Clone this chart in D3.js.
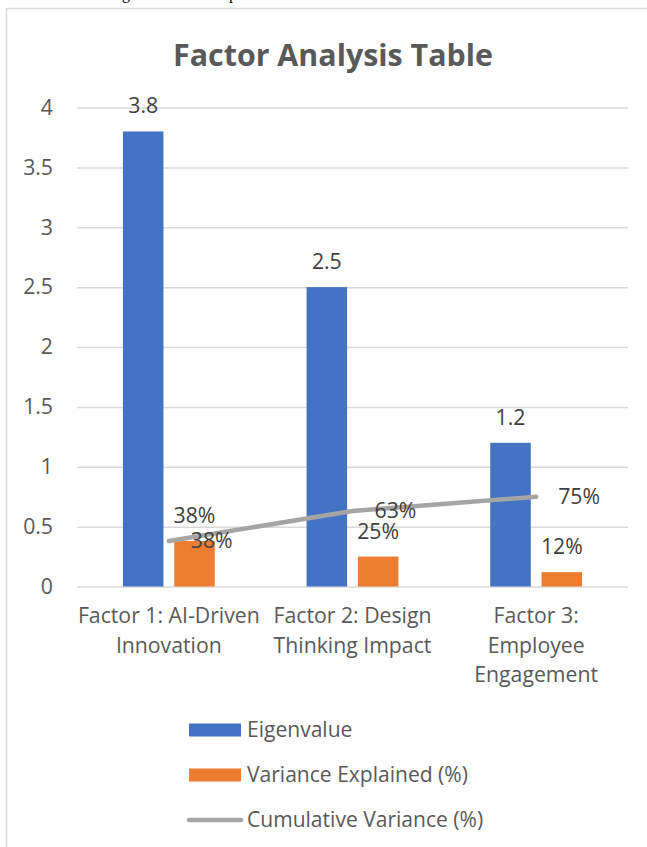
<!DOCTYPE html>
<html>
<head>
<meta charset="UTF-8">
<title>Factor Analysis Table</title>
<style>
  body { margin: 0; background: #fff; }
  svg { display: block; }
  text { font-family: "Open Sans", Lato, sans-serif; }
</style>
</head>
<body>
<svg id="chart" width="647" height="847"></svg>

<script src="https://d3js.org/d3.v7.min.js"></script>
<script>
// chart data
const categories = ["Factor 1: AI-Driven Innovation", "Factor 2: Design Thinking Impact", "Factor 3: Employee Engagement"];
const categoryLines = [["Factor 1: AI-Driven", "Innovation"], ["Factor 2: Design", "Thinking Impact"], ["Factor 3:", "Employee", "Engagement"]];
const eigenvalues = [3.8, 2.5, 1.2];
const varianceExplained = [0.38, 0.25, 0.12];
const cumulativeVariance = [0.38, 0.63, 0.75];
const yTicks = [0, 0.5, 1, 1.5, 2, 2.5, 3, 3.5, 4];
const seriesNames = ["Eigenvalue", "Variance Explained (%)", "Cumulative Variance (%)"];

const blue = "#4472c4", orange = "#ed7d31", grey = "#a5a5a5";
const textCol = "#595959", labelCol = "#404040";

let svg = d3.select("#chart");

// pick a font size so that a string gets the width it has in the reference
function fitSize(str, weight, target) {
    let t = svg.append("text").style("font-size", "100px").style("font-weight", weight).text(str);
    let w = t.node().getComputedTextLength();
    t.remove();
    return 100 * target / w;
}
const titleSize = fitSize("Factor Analysis Table", "bold", 320);
const axisSize = fitSize("Factor 1: AI-Driven", "normal", 182);
const legendSize = fitSize("Variance Explained (%)", "normal", 221);

// text of the page above the chart, mostly cut off
svg.append("text")
    .attr("x", 122).attr("y", -1)
    .style("font-family", "'Liberation Serif', serif")
    .style("font-size", "16px")
    .attr("fill", "#000")
    .text("g the varimax exp");

// chart frame (runs off the right and bottom)
svg.append("rect")
    .attr("x", 6.5).attr("y", 8.5)
    .attr("width", 700).attr("height", 900)
    .attr("fill", "#fff")
    .attr("stroke", "#d9d9d9")
    .attr("stroke-width", 1.5);

// title
svg.append("text")
    .attr("x", 333).attr("y", 66)
    .attr("text-anchor", "middle")
    .attr("fill", textCol)
    .style("font-size", titleSize + "px")
    .style("font-weight", "bold")
    .text("Factor Analysis Table");

let x = d3.scaleBand().domain(categories).range([77, 628]);
let bw = x.bandwidth();
let xSub = d3.scaleBand().domain(["eig", "var"])
    .range([bw * 0.25, bw * 0.75])
    .paddingInner(0.21);
let y = d3.scaleLinear().domain([0, 4]).range([586.5, 107.5]);

// y axis with gridlines
let yAxis = svg.append("g")
    .attr("transform", "translate(77,0)")
    .call(d3.axisLeft(y).tickValues(yTicks).tickSize(-551).tickPadding(24).tickFormat(d3.format("")));
yAxis.select(".domain").remove();
yAxis.selectAll(".tick line").attr("stroke", "#d9d9d9").attr("stroke-width", 1.5);
yAxis.selectAll(".tick text")
    .attr("fill", textCol)
    .style("font-size", axisSize + "px")
    .style("font-family", "'Open Sans', sans-serif");

// bars
let groups = svg.append("g").selectAll("g")
    .data(categories)
    .join("g")
    .attr("transform", d => "translate(" + x(d) + ",0)");

groups.append("rect")
    .attr("x", xSub("eig"))
    .attr("width", xSub.bandwidth())
    .attr("y", (d, i) => y(eigenvalues[i]))
    .attr("height", (d, i) => y(0) - y(eigenvalues[i]))
    .attr("fill", blue);

groups.append("rect")
    .attr("x", xSub("var"))
    .attr("width", xSub.bandwidth())
    .attr("y", (d, i) => y(varianceExplained[i]))
    .attr("height", (d, i) => y(0) - y(varianceExplained[i]))
    .attr("fill", orange);

// bar labels
groups.append("text")
    .attr("x", xSub("eig") + xSub.bandwidth() / 2)
    .attr("y", (d, i) => y(eigenvalues[i]) - 18)
    .attr("text-anchor", "middle")
    .attr("fill", labelCol)
    .style("font-size", axisSize + "px")
    .text((d, i) => eigenvalues[i]);

groups.append("text")
    .attr("x", xSub("var") + xSub.bandwidth() / 2)
    .attr("y", (d, i) => y(varianceExplained[i]) - 18)
    .attr("text-anchor", "middle")
    .attr("fill", labelCol)
    .style("font-size", axisSize + "px")
    .text((d, i) => Math.round(varianceExplained[i] * 100) + "%");

// cumulative line
let line = d3.line()
    .x((d, i) => x(categories[i]) + bw / 2)
    .y(d => y(d));

svg.append("path")
    .datum(cumulativeVariance)
    .attr("d", line)
    .attr("fill", "none")
    .attr("stroke", grey)
    .attr("stroke-width", 4.5)
    .attr("stroke-linecap", "round")
    .attr("stroke-linejoin", "round");

svg.append("g").selectAll("text")
    .data(cumulativeVariance)
    .join("text")
    .attr("x", (d, i) => x(categories[i]) + bw / 2 + 22)
    .attr("y", d => y(d) + 7)
    .attr("fill", labelCol)
    .style("font-size", axisSize + "px")
    .text(d => Math.round(d * 100) + "%");

// category labels
let xl = svg.append("g").selectAll("text")
    .data(categories)
    .join("text")
    .attr("x", d => x(d) + bw / 2)
    .attr("y", 623)
    .attr("text-anchor", "middle")
    .attr("fill", textCol)
    .style("font-size", axisSize + "px");
xl.selectAll("tspan")
    .data((d, i) => categoryLines[i])
    .join("tspan")
    .attr("x", function() { return this.parentNode.getAttribute("x"); })
    .attr("dy", (d, j) => j == 0 ? 0 : 29.5)
    .text(d => d);

// legend
let legend = svg.append("g");
let legendY = [730, 775, 820];
seriesNames.forEach((name, i) => {
    if (i < 2) {
        legend.append("rect")
            .attr("x", 189).attr("y", legendY[i] - 6.5)
            .attr("width", 52).attr("height", 13)
            .attr("fill", i == 0 ? blue : orange);
    } else {
        legend.append("line")
            .attr("x1", 189).attr("x2", 241)
            .attr("y1", legendY[i]).attr("y2", legendY[i])
            .attr("stroke", grey).attr("stroke-width", 4.5)
            .attr("stroke-linecap", "round");
    }
    legend.append("text")
        .attr("x", 247).attr("y", legendY[i] + 6.5)
        .attr("fill", textCol)
        .style("font-size", legendSize + "px")
        .text(name);
});
</script>
</body>
</html>
